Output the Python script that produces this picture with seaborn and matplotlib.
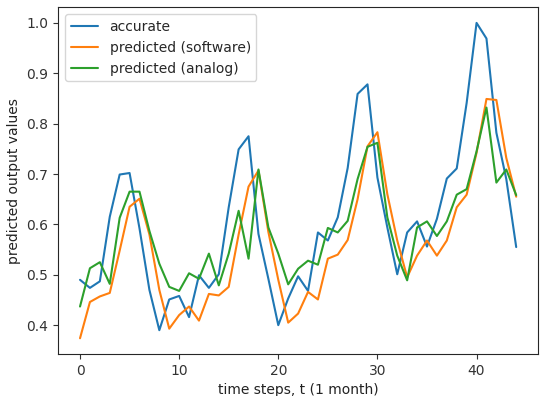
import numpy as np
import pandas as pd
import matplotlib
matplotlib.use("Agg")
import matplotlib.pyplot as plt
import seaborn as sns

t = list(range(45))
accurate = [0.490, 0.474, 0.487, 0.615, 0.699, 0.702, 0.592, 0.470, 0.390, 0.451,
            0.458, 0.416, 0.499, 0.474, 0.501, 0.634, 0.749, 0.775, 0.581, 0.492,
            0.400, 0.453, 0.497, 0.468, 0.584, 0.568, 0.614, 0.712, 0.859, 0.878,
            0.693, 0.594, 0.501, 0.584, 0.606, 0.556, 0.611, 0.691, 0.711, 0.841,
            1.000, 0.969, 0.782, 0.690, 0.555]
software = [0.374, 0.446, 0.457, 0.464, 0.548, 0.635, 0.651, 0.580, 0.470, 0.393,
            0.420, 0.437, 0.409, 0.462, 0.459, 0.476, 0.580, 0.675, 0.707, 0.585,
            0.490, 0.405, 0.423, 0.466, 0.451, 0.532, 0.540, 0.569, 0.650, 0.755,
            0.783, 0.660, 0.568, 0.495, 0.538, 0.568, 0.538, 0.568, 0.634, 0.659,
            0.742, 0.849, 0.847, 0.732, 0.655]
analog = [0.437, 0.513, 0.525, 0.482, 0.613, 0.665, 0.665, 0.587, 0.522, 0.476,
          0.468, 0.503, 0.492, 0.542, 0.479, 0.542, 0.627, 0.532, 0.709, 0.594,
          0.542, 0.481, 0.512, 0.528, 0.520, 0.593, 0.584, 0.607, 0.690, 0.754,
          0.762, 0.614, 0.538, 0.489, 0.594, 0.606, 0.577, 0.606, 0.659, 0.670,
          0.745, 0.832, 0.683, 0.709, 0.658]

sns.set_style("ticks")
plt.rcParams['font.family'] = ['DejaVu Sans']

fig, ax = plt.subplots(figsize=(5.44, 3.96), dpi=100)
fig.subplots_adjust(left=0.107, right=0.989, top=0.982, bottom=0.106)

pal = sns.color_palette("tab10")
sns.lineplot(x=t, y=accurate, ax=ax, color=pal[0], label="accurate", linewidth=1.5)
sns.lineplot(x=t, y=software, ax=ax, color=pal[1], label="predicted (software)", linewidth=1.5)
sns.lineplot(x=t, y=analog, ax=ax, color=pal[2], label="predicted (analog)", linewidth=1.5)

ax.set_xticks([0, 10, 20, 30, 40])
ax.set_yticks([0.4, 0.5, 0.6, 0.7, 0.8, 0.9, 1.0])
ax.tick_params(labelsize=10, colors="#333333")
ax.set_xlabel("time steps, t (1 month)", fontsize=10, color="#222222")
ax.set_ylabel("predicted output values", fontsize=10, color="#222222")
ax.legend(loc="upper left", fontsize=10)
for s in ax.spines.values():
    s.set_visible(True)

fig.savefig("out.png", dpi=100)
